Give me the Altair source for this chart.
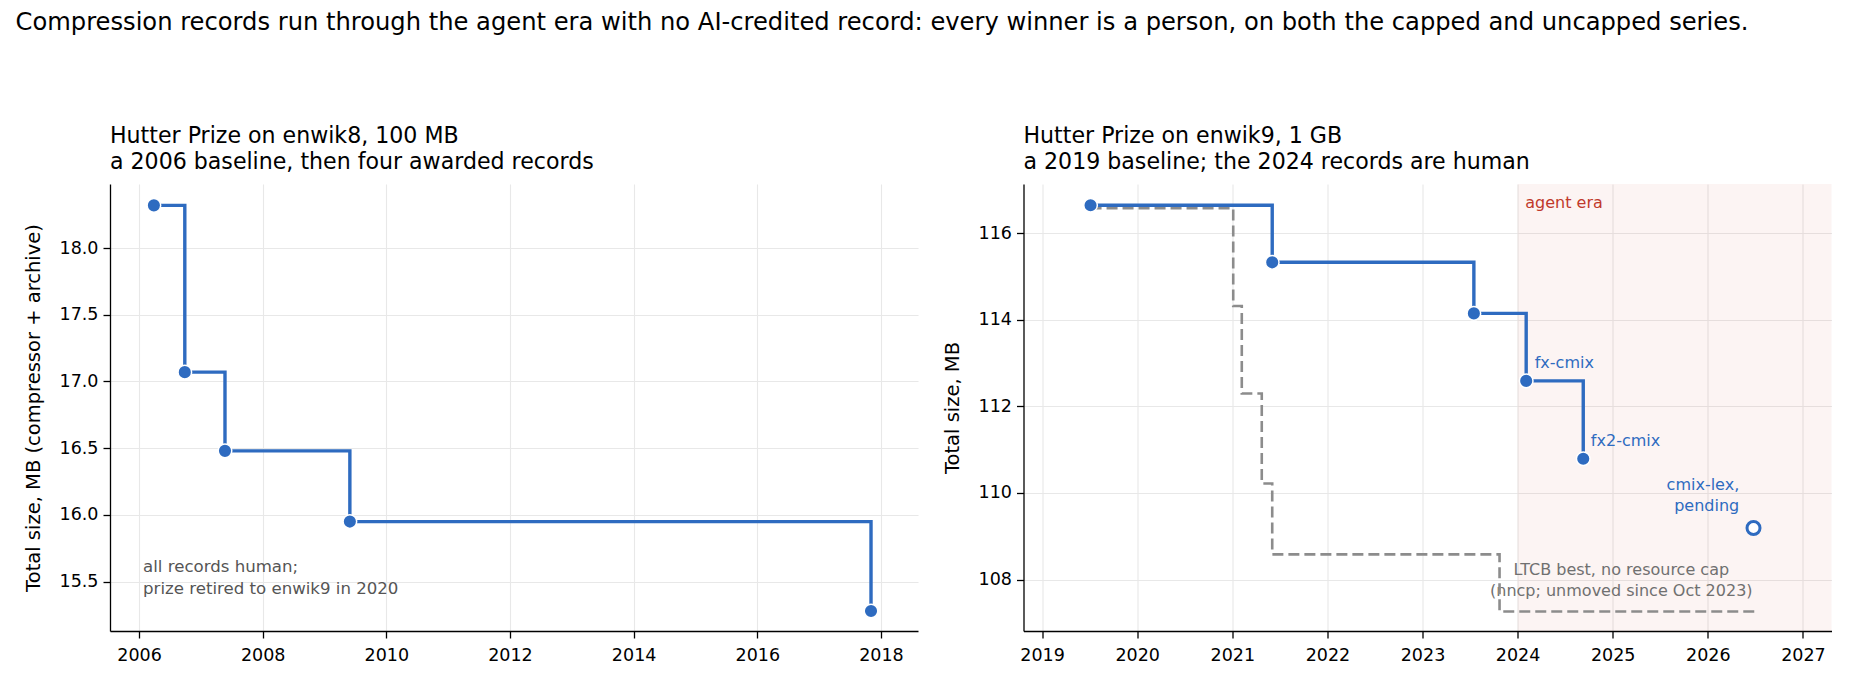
import altair as alt
import pandas as pd

# ---------------- data ----------------
# Hutter Prize, enwik8 (100 MB): record dates (decimal year) and total size (MB)
e8_year = [2006.24, 2006.74, 2007.39, 2009.41, 2017.84]
e8_size = [18.32, 17.07, 16.48, 15.95, 15.28]

# Hutter Prize, enwik9 (1 GB)
e9_year = [2019.51, 2021.42, 2023.54, 2024.09, 2024.69]
e9_size = [116.65, 115.33, 114.15, 112.59, 110.79]

# pending claim
pending_year = [2026.48]
pending_size = [109.19]

# LTCB best, no resource cap
ltcb_year = [2019.51, 2021.01, 2021.10, 2021.31, 2021.42, 2023.81, 2026.49]
ltcb_size = [116.58, 114.32, 112.30, 110.22, 108.58, 107.26, 107.26]

agent_era_start = [2024.0]

e8_xticks = [2006, 2008, 2010, 2012, 2014, 2016, 2018]
e8_yticks = [15.5, 16.0, 16.5, 17.0, 17.5, 18.0]
e9_xticks = [2019, 2020, 2021, 2022, 2023, 2024, 2025, 2026, 2027]
e9_yticks = [108, 110, 112, 114, 116]

e8_xdom = [2005.53, 2018.60]
e8_ydom = [15.13, 18.48]
e9_xdom = [2018.805, 2027.30]
e9_ydom = [106.81, 117.14]

left_note = ["all records human;", "prize retired to enwik9 in 2020"]
left_note_pos = [2006.065, 15.61]

labels_text = ["fx-cmix", "fx2-cmix"]
labels_x = [2024.18, 2024.77]
labels_y = [113.01, 111.20]

pending_text = ["cmix-lex,", "pending"]
pending_text_pos = [2026.33, 110.18]

ltcb_text = ["LTCB best, no resource cap", "(nncp; unmoved since Oct 2023)"]
ltcb_text_pos = [2025.09, 108.21]

agent_text = "agent era"
agent_text_pos = [2024.08, 116.70]

BLUE = "#2e6bc0"
GRAY = "#8c8c8c"
RED = "#c0392b"
FONT = "DejaVu Sans"
W, H = 808, 447


def xenc(field, dom, ticks):
    return alt.X(field, type="quantitative", scale=alt.Scale(domain=dom, nice=False, zero=False),
                 axis=alt.Axis(values=ticks, format="d", title=None))


def yenc(field, dom, ticks, fmt, title):
    return alt.Y(field, type="quantitative", scale=alt.Scale(domain=dom, nice=False, zero=False),
                 axis=alt.Axis(values=ticks, format=fmt, title=title))


# ---------------- left panel ----------------
yt8 = "Total size, MB (compressor + archive)"
e8 = pd.DataFrame({"year": e8_year, "size": e8_size})

def x8(f):
    return xenc(f, e8_xdom, e8_xticks)

def y8(f):
    return yenc(f, e8_ydom, e8_yticks, ".1f", yt8)

line8 = alt.Chart(e8).mark_line(interpolate="step-after", color=BLUE, strokeWidth=3.4).encode(
    x=x8("year"), y=y8("size"))
pts8 = alt.Chart(e8).mark_point(filled=True, shape="circle", size=185, color=BLUE, opacity=1,
                                stroke="white", strokeWidth=1.5).encode(x=x8("year"), y=y8("size"))
note8 = alt.Chart(pd.DataFrame({"x": [left_note_pos[0]], "y": [left_note_pos[1]], "t": [left_note]})).mark_text(
    align="left", baseline="middle", fontSize=16.6, lineHeight=22.3, color="#555555", font=FONT).encode(
    x=x8("x"), y=y8("y"), text="t")

left = alt.layer(line8, note8, pts8).properties(
    width=W, height=H,
    title=alt.TitleParams(text=["Hutter Prize on enwik8, 100 MB", "a 2006 baseline, then four awarded records"],
                          anchor="start", frame="group", fontSize=22.1, lineHeight=26, fontWeight="normal",
                          font=FONT, color="black", offset=10))

# ---------------- right panel ----------------
e9 = pd.DataFrame({"year": e9_year, "size": e9_size})
lt = pd.DataFrame({"year": ltcb_year, "size": ltcb_size})
yt9 = "Total size, MB"

def x9(f):
    return xenc(f, e9_xdom, e9_xticks)

def y9(f):
    return yenc(f, e9_ydom, e9_yticks, "d", yt9)

shade = alt.Chart(pd.DataFrame({"x": agent_era_start, "x2": [e9_xdom[1]]})).mark_rect(
    color=RED, opacity=0.055).encode(x=x9("x"), x2="x2", y=alt.value(0), y2=alt.value(H))

ltcb_line = alt.Chart(lt).mark_line(interpolate="step-after", color=GRAY, strokeWidth=2.6,
                                    strokeDash=[11, 5]).encode(x=x9("year"), y=y9("size"))
line9 = alt.Chart(e9).mark_line(interpolate="step-after", color=BLUE, strokeWidth=3.4).encode(
    x=x9("year"), y=y9("size"))
pts9 = alt.Chart(e9).mark_point(filled=True, shape="circle", size=185, color=BLUE, opacity=1,
                                stroke="white", strokeWidth=1.5).encode(x=x9("year"), y=y9("size"))
pend = alt.Chart(pd.DataFrame({"year": pending_year, "size": pending_size})).mark_point(
    shape="circle", size=169, filled=False, fill="white", fillOpacity=1, stroke=BLUE, strokeWidth=3,
    opacity=1).encode(x=x9("year"), y=y9("size"))

lab = alt.Chart(pd.DataFrame({"x": labels_x, "y": labels_y, "t": labels_text})).mark_text(
    align="left", baseline="middle", fontSize=16, color=BLUE, font=FONT).encode(
    x=x9("x"), y=y9("y"), text="t")
pend_lab = alt.Chart(pd.DataFrame({"x": [pending_text_pos[0]], "y": [pending_text_pos[1]], "t": [pending_text]})).mark_text(
    align="right", baseline="middle", fontSize=16, lineHeight=21, color=BLUE, font=FONT).encode(
    x=x9("x"), y=y9("y"), text="t")
ltcb_lab = alt.Chart(pd.DataFrame({"x": [ltcb_text_pos[0]], "y": [ltcb_text_pos[1]], "t": [ltcb_text]})).mark_text(
    align="center", baseline="middle", fontSize=16, lineHeight=21, color="#707070", font=FONT).encode(
    x=x9("x"), y=y9("y"), text="t")
agent_lab = alt.Chart(pd.DataFrame({"x": [agent_text_pos[0]], "y": [agent_text_pos[1]], "t": [agent_text]})).mark_text(
    align="left", baseline="middle", fontSize=16, color=RED, font=FONT).encode(
    x=x9("x"), y=y9("y"), text="t")

right = alt.layer(shade, ltcb_lab, ltcb_line, line9, pts9, pend, lab, pend_lab, agent_lab).properties(
    width=W, height=H,
    title=alt.TitleParams(text=["Hutter Prize on enwik9, 1 GB", "a 2019 baseline; the 2024 records are human"],
                          anchor="start", frame="group", fontSize=22.1, lineHeight=26, fontWeight="normal",
                          font=FONT, color="black", offset=10))

chart = alt.hconcat(left, right, spacing=24.5).properties(
    padding={"left": 7, "top": 3, "right": 5, "bottom": 5},
    title=alt.TitleParams(
        text="Compression records run through the agent era with no AI-credited record: every winner is a person, on both the capped and uncapped series.",
        anchor="start", frame="bounds", dx=-8, fontSize=24.2, fontWeight="normal", font=FONT,
        color="black", offset=89.5)
).configure_view(stroke=None).configure_axis(
    domainColor="black", domainWidth=1.3, tickColor="black", tickWidth=1.3, tickSize=7,
    labelFont=FONT, labelFontSize=17.5, labelColor="black", labelPadding=5,
    titleFont=FONT, titleFontSize=19.5, titleFontWeight="normal", titleColor="black", titlePadding=15.5,
    gridColor="#e8e8e8", gridWidth=1.1, grid=True
).configure_axisX(labelPadding=8)

chart.save("out.html", embed_options={"renderer": "svg", "actions": False})
